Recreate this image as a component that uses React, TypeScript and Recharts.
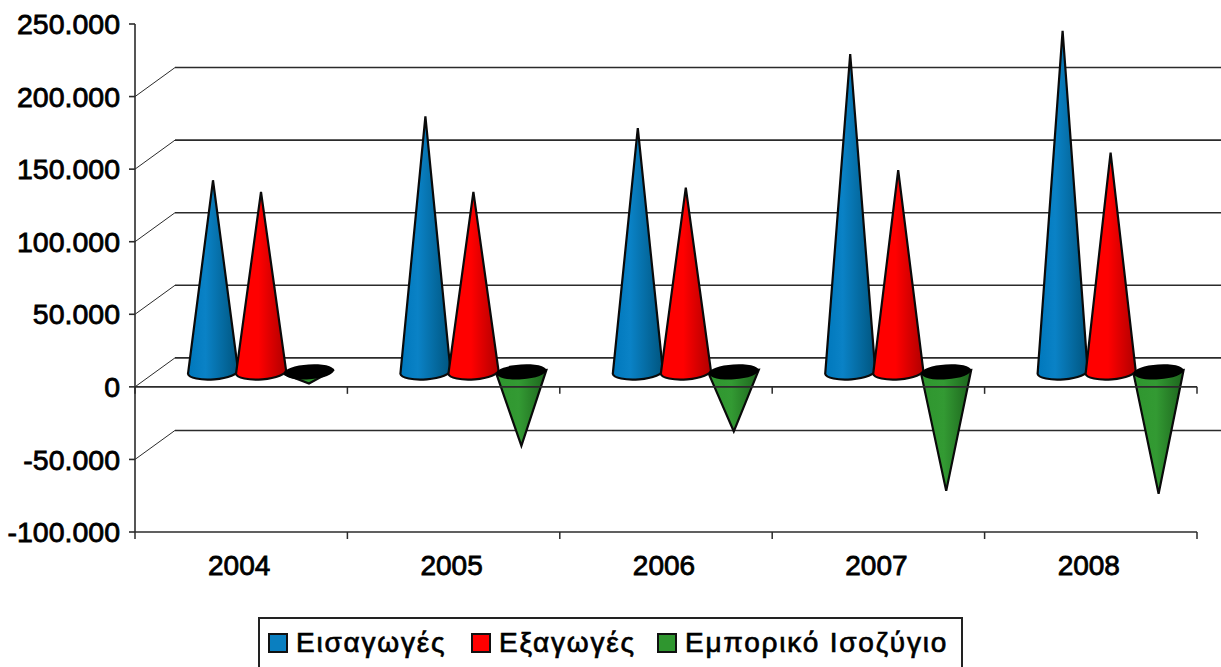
import { BarChart, Bar, XAxis, YAxis, CartesianGrid, ReferenceLine } from 'recharts'

const years = ['2004', '2005', '2006', '2007', '2008']
const imports = [132000, 176000, 168000, 219000, 235000]
const exportsVals = [124000, 124000, 127000, 139000, 151000]
const balance = [-8000, -51000, -41000, -82000, -84000]
const yTicks = [-100000, -50000, 0, 50000, 100000, 150000, 200000, 250000]

const seriesNames = ['Εισαγωγές', 'Εξαγωγές', 'Εμπορικό Ισοζύγιο']
const seriesColors = ['#0a7fc0', '#ff0000', '#2f962f']
const legendLefts = [8, 211, 397]

const WIDTH = 1221
const HEIGHT = 667
const LEFT = 135
const RIGHT = 24
const TOP = 24
const BOTTOM = 135
const AXIS_H = 30
const FONT = '"Liberation Sans", Arial, sans-serif'
const LINE = '#2b2b2b'

const plotW = WIDTH - LEFT - RIGHT
const plotH = HEIGHT - TOP - BOTTOM
const bandW = plotW / years.length
const zeroY = TOP + (plotH * 250) / 350

// fake depth: the cones stand in the middle of the floor, the grid on the back wall
const DEPTH_X = 40
const DEPTH_Y = 29
const CONE_DX = 20
const CONE_DY = -15

const data = years.map((year, i) => ({
  year,
  imports: imports[i],
  exports: exportsVals[i],
  balance: balance[i],
}))

const fmt = (v: number) => String(v).replace(/\B(?=(\d{3})+(?!\d))/g, '.')

function Cone(props: any) {
  const { x, y, width, height, gradient } = props
  const cx = x + width / 2 + CONE_DX
  const tip = y + CONE_DY
  const base = y + height + CONE_DY
  const rx = width / 2 + 1
  const ry = 7.5
  const down = tip > base
  const lx = cx - rx
  const rxEnd = cx + rx
  const ly = base + 2
  const ry2 = base - 2
  const stroke = '#0a0a0a'
  if (down) {
    return (
      <g>
        <path
          d={`M${lx},${ly} L${cx},${tip} L${rxEnd},${ry2} Z`}
          fill={`url(#${gradient})`}
          stroke={stroke}
          strokeWidth={2.2}
        />
        <ellipse cx={cx} cy={base} rx={rx} ry={ry} fill="#000" transform={`rotate(-4 ${cx} ${base})`} />
      </g>
    )
  }
  return (
    <path
      d={`M${lx},${ly} L${cx},${tip} L${rxEnd},${ry2} A${rx},${ry} -4 0 1 ${lx},${ly} Z`}
      fill={`url(#${gradient})`}
      stroke={stroke}
      strokeWidth={2.2}
    />
  )
}

function BackLine(props: any) {
  const { y1 } = props
  // top and bottom ticks have no wall line
  if (y1 < TOP + 5 || y1 > TOP + plotH - 5) return <g />
  return (
    <g>
      <line x1={LEFT} y1={y1} x2={LEFT + DEPTH_X} y2={y1 - DEPTH_Y} stroke={LINE} strokeWidth={1} />
      <line x1={LEFT + DEPTH_X} y1={y1 - DEPTH_Y} x2={WIDTH} y2={y1 - DEPTH_Y} stroke={LINE} strokeWidth={1.6} />
    </g>
  )
}

function YearTick(props: any) {
  const { x, payload, index } = props
  const left = x - bandW / 2
  const right = x + bandW / 2
  const last = index === years.length - 1
  const marks = last ? [left, right] : [left]
  return (
    <g>
      {marks.map((m) => (
        <g key={m}>
          <line x1={m} x2={m} y1={TOP + plotH} y2={TOP + plotH + 7} stroke={LINE} strokeWidth={1.5} />
          <line x1={m} x2={m} y1={zeroY} y2={zeroY + 7} stroke={LINE} strokeWidth={1.5} />
        </g>
      ))}
      <text
        x={x - 2}
        y={TOP + plotH + 43}
        textAnchor="middle"
        fontSize={28}
        fontFamily={FONT}
        fill="#000"
        stroke="#000"
        strokeWidth={0.8}
      >
        {payload.value}
      </text>
    </g>
  )
}

function ChartLegend() {
  return (
    <div
      style={{
        position: 'absolute',
        left: 258,
        top: 617,
        width: 705,
        height: 50,
        boxSizing: 'border-box',
        border: '2px solid #222',
        borderBottom: 'none',
        fontFamily: FONT,
        fontSize: 28,
        letterSpacing: 1.8,
        whiteSpace: 'nowrap',
        color: '#000',
        WebkitTextStroke: '0.7px #000',
      }}
    >
      {seriesNames.map((name, i) => (
        <span
          key={name}
          style={{ position: 'absolute', left: legendLefts[i], top: 7, display: 'flex', alignItems: 'center', height: 34 }}
        >
          <span
            style={{
              flexShrink: 0,
              width: 20,
              height: 20,
              boxSizing: 'border-box',
              border: '2px solid #111',
              background: seriesColors[i],
              marginRight: 8,
            }}
          />
          {name}
        </span>
      ))}
    </div>
  )
}

export default function App() {
  return (
    <div style={{ position: 'absolute', left: 0, top: 0, width: WIDTH, height: HEIGHT, background: '#fff', overflow: 'hidden' }}>
      <BarChart
        width={WIDTH}
        height={HEIGHT}
        data={data}
        barGap={0}
        barCategoryGap={34}
        margin={{ top: TOP, right: RIGHT, bottom: BOTTOM - AXIS_H, left: 0 }}
      >
        <defs>
          <linearGradient id="coneBlue" x1="0" y1="0" x2="1" y2="0">
            <stop offset="0" stopColor="#0078bc" />
            <stop offset="0.35" stopColor="#0a82c6" />
            <stop offset="1" stopColor="#00557f" />
          </linearGradient>
          <linearGradient id="coneRed" x1="0" y1="0" x2="1" y2="0">
            <stop offset="0" stopColor="#ff0000" />
            <stop offset="0.45" stopColor="#ff0000" />
            <stop offset="1" stopColor="#b00000" />
          </linearGradient>
          <linearGradient id="coneGreen" x1="0" y1="0" x2="1" y2="0">
            <stop offset="0" stopColor="#2f962f" />
            <stop offset="0.45" stopColor="#339a33" />
            <stop offset="1" stopColor="#1d641d" />
          </linearGradient>
        </defs>
        <CartesianGrid vertical={false} horizontal={(p: any) => <BackLine {...p} />} />
        <XAxis
          dataKey="year"
          height={AXIS_H}
          stroke={LINE}
          strokeWidth={1.6}
          tickLine={false}
          interval={0}
          tick={(p: any) => <YearTick {...p} />}
        />
        <YAxis
          width={LEFT}
          domain={[-100000, 250000]}
          ticks={yTicks}
          interval={0}
          tickFormatter={fmt}
          stroke={LINE}
          strokeWidth={1.6}
          tickSize={6}
          tickMargin={9}
          tick={{ fontSize: 28.5, fontFamily: FONT, fill: '#000', stroke: '#000', strokeWidth: 0.8 }}
        />
        <Bar dataKey="imports" isAnimationActive={false} shape={(p: any) => <Cone {...p} gradient="coneBlue" />} />
        <Bar dataKey="exports" isAnimationActive={false} shape={(p: any) => <Cone {...p} gradient="coneRed" />} />
        <Bar dataKey="balance" isAnimationActive={false} shape={(p: any) => <Cone {...p} gradient="coneGreen" />} />
        <ReferenceLine y={0} stroke={LINE} strokeWidth={1.6} />
      </BarChart>
      <ChartLegend />
    </div>
  )
}
